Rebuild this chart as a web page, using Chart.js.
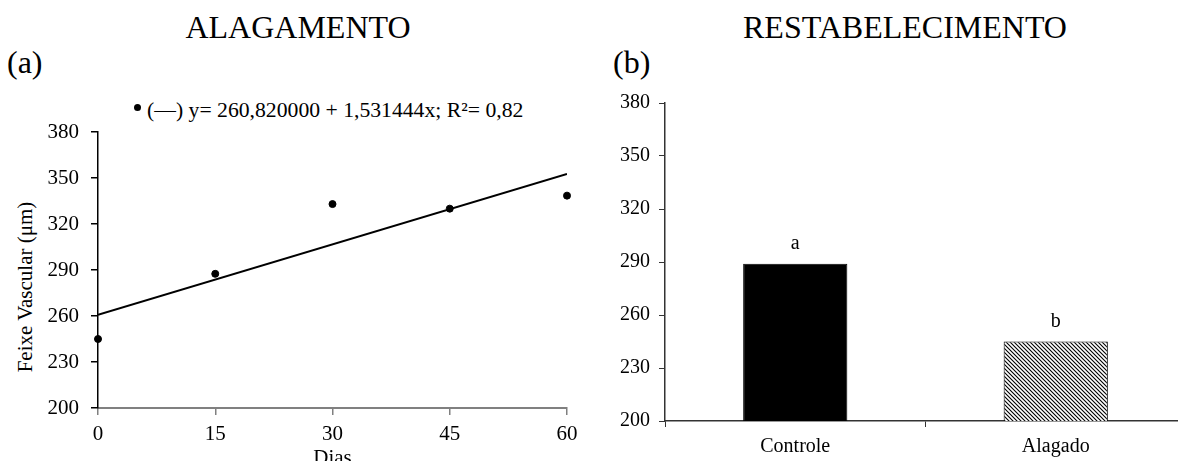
<!DOCTYPE html>
<html>
<head>
<meta charset="utf-8">
<script src="https://cdn.jsdelivr.net/npm/chart.js@4.4.1/dist/chart.umd.min.js"></script>
<style>
  html, body { margin: 0; padding: 0; background: #fff; overflow: hidden; width: 1178px; height: 461px; }
  body { position: relative; font-family: "Liberation Serif", "Times New Roman", serif; color: #000; }
  .txt { position: absolute; white-space: nowrap; line-height: 1; }
  .titulo { font-size: 32px; top: 11px; transform: translateX(-50%); }
  .painel { font-size: 32px; top: 46px; }
  canvas { position: absolute; }
</style>
</head>
<body>
<div class="txt titulo" style="left:298px">ALAGAMENTO</div>
<div class="txt titulo" style="left:905px">RESTABELECIMENTO</div>
<div class="txt painel" style="left:7px">(a)</div>
<div class="txt painel" style="left:613px">(b)</div>
<div style="position:absolute;left:134px;top:104px;width:7px;height:7px;border-radius:50%;background:#000"></div>
<div class="txt" style="left:147px;top:100px;font-size:21.7px">(—) y= 260,820000 + 1,531444x; R²= 0,82</div>
<div class="txt" style="left:25px;top:287px;font-size:21px;transform:translate(-50%,-50%) rotate(-90deg)">Feixe Vascular (μm)</div>

<div style="position:absolute;left:0;top:90px;width:600px;height:390px"><canvas id="chartA"></canvas></div>
<div style="position:absolute;left:600px;top:80px;width:590px;height:381px"><canvas id="chartB"></canvas></div>

<script>
(function () {
    "use strict";

    // Data
    const dias = [0, 15, 30, 45, 60];
    const feixeAlagamento = [245, 287.5, 333, 330, 338.5];
    const intercepto = 260.82;
    const inclinacao = 1.531444;

    const tratamentos = ["Controle", "Alagado"];
    const feixeRestabelecimento = [289, 245];
    const letras = ["a", "b"];

    const yTicks = [200, 230, 260, 290, 320, 350, 380];

    Chart.defaults.font.family = '"Liberation Serif", "Times New Roman", serif';
    Chart.defaults.color = "#000";

    const setTicks = (values) => (scale) => {
        scale.ticks = values.map((v) => ({ value: v }));
    };

    // (a) Alagamento
    const ctxA = document.getElementById("chartA").getContext("2d");
    new Chart(ctxA, {
        type: "scatter",
        data: {
            datasets: [
                {
                    type: "line",
                    data: [
                        { x: dias[0], y: intercepto + inclinacao * dias[0] },
                        { x: dias[dias.length - 1], y: intercepto + inclinacao * dias[dias.length - 1] },
                    ],
                    borderColor: "#000",
                    borderWidth: 2,
                    pointRadius: 0,
                    fill: false,
                },
                {
                    data: dias.map((d, i) => ({ x: d, y: feixeAlagamento[i] })),
                    backgroundColor: "#000",
                    borderColor: "#000",
                    pointRadius: 3.5,
                    clip: false,
                },
            ],
        },
        options: {
            responsive: true,
            maintainAspectRatio: false,
            animation: false,
            layout: { padding: { left: 0, top: 42, right: 33, bottom: 0 } },
            plugins: { legend: { display: false }, tooltip: { enabled: false } },
            scales: {
                x: {
                    type: "linear",
                    min: 0,
                    max: 60,
                    afterBuildTicks: setTicks(dias),
                    afterFit: (s) => { s.height = 72; },
                    grid: { display: true, drawOnChartArea: false, drawTicks: true, tickLength: 7, color: "#808080", lineWidth: 1.5 },
                    border: { display: true, color: "#808080", width: 2 },
                    ticks: { font: { size: 21 }, padding: 7, maxRotation: 0 },
                    title: { display: true, text: "Dias", font: { size: 21 }, padding: { top: 0, bottom: 9 } },
                },
                y: {
                    min: 200,
                    max: 380,
                    afterBuildTicks: setTicks(yTicks),
                    afterFit: (s) => { s.width = 98; },
                    grid: { display: true, drawOnChartArea: false, drawTicks: true, tickLength: 7, color: "#000", lineWidth: 1.5 },
                    border: { display: true, color: "#000", width: 1.5 },
                    ticks: { font: { size: 21 }, padding: 12 },
                },
            },
        },
    });

    // (b) Restabelecimento
    const hatch = document.createElement("canvas");
    hatch.width = 4;
    hatch.height = 4;
    const hctx = hatch.getContext("2d");
    hctx.fillStyle = "#fff";
    hctx.fillRect(0, 0, 4, 4);
    hctx.strokeStyle = "#000";
    hctx.lineWidth = 1.1;
    hctx.beginPath();
    hctx.moveTo(0, 0); hctx.lineTo(4, 4);
    hctx.moveTo(-1, 3); hctx.lineTo(1, 5);
    hctx.moveTo(3, -1); hctx.lineTo(5, 1);
    hctx.stroke();

    const ctxB = document.getElementById("chartB").getContext("2d");
    const hatchPattern = ctxB.createPattern(hatch, "repeat");

    const letrasPlugin = {
        id: "letras",
        afterDatasetsDraw(chart) {
            const { ctx } = chart;
            const meta = chart.getDatasetMeta(0);
            ctx.save();
            ctx.font = '20px "Liberation Serif", serif';
            ctx.fillStyle = "#000";
            ctx.textAlign = "center";
            ctx.textBaseline = "bottom";
            meta.data.forEach((bar, i) => {
                ctx.fillText(letras[i], bar.x, bar.y - 10);
            });
            ctx.restore();
        },
    };

    new Chart(ctxB, {
        type: "bar",
        data: {
            labels: tratamentos,
            datasets: [
                {
                    data: feixeRestabelecimento,
                    backgroundColor: ["#000", hatchPattern],
                    borderColor: "#000",
                    borderWidth: 1,
                    categoryPercentage: 1,
                    barPercentage: 0.4,
                },
            ],
        },
        options: {
            responsive: true,
            maintainAspectRatio: false,
            animation: false,
            layout: { padding: { left: 0, top: 23, right: 4, bottom: 0 } },
            plugins: { legend: { display: false }, tooltip: { enabled: false } },
            scales: {
                x: {
                    afterFit: (s) => { s.height = 40; },
                    grid: { display: true, drawOnChartArea: false, drawTicks: true, tickLength: 6, color: "#333", offset: true },
                    border: { display: true, color: "#333", width: 1.5 },
                    ticks: { font: { size: 20 }, padding: 8 },
                },
                y: {
                    min: 200,
                    max: 380,
                    afterBuildTicks: setTicks(yTicks),
                    afterFit: (s) => { s.width = 65; },
                    grid: { display: true, drawOnChartArea: false, drawTicks: true, tickLength: 6, color: "#333" },
                    border: { display: true, color: "#333", width: 1.5 },
                    ticks: { font: { size: 20 }, padding: 9 },
                },
            },
        },
        plugins: [letrasPlugin],
    });
})();
</script>
</body>
</html>
